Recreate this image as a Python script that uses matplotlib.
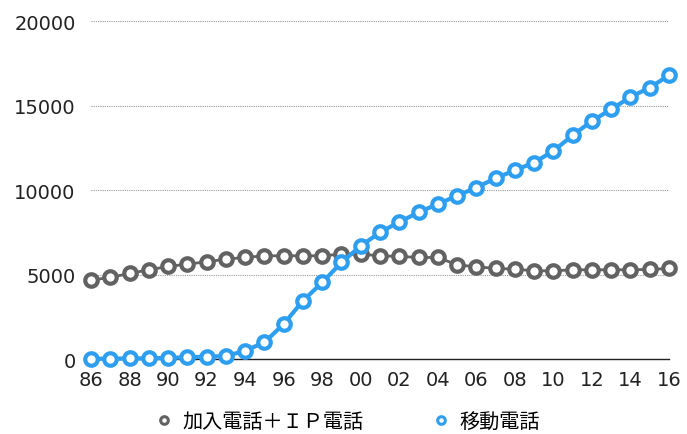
import matplotlib
matplotlib.use("Agg")
import matplotlib.pyplot as plt
from matplotlib.lines import Line2D

plt.rcParams['font.family'] = ['DejaVu Sans', 'Noto Sans CJK JP']

# 年度 (1986-2016), 契約数 (万)
years = list(range(1986, 2017))
fixed = [4669, 4826, 5063, 5278, 5476, 5614, 5752, 5910, 6010, 6107,
         6107, 6107, 6107, 6206, 6206, 6107, 6070, 6010, 6010, 5573,
         5455, 5360, 5319, 5219, 5219, 5278, 5278, 5278, 5278, 5300, 5360]
mobile = [10, 20, 30, 40, 70, 100, 140, 170, 490, 986,
          2068, 3447, 4530, 5712, 6696, 7488, 8115, 8670, 9179, 9651,
          10148, 10697, 11170, 11625, 12311, 13239, 14084, 14775, 15502, 16058, 16785]
xticks = list(range(1986, 2017, 2))
xlabels = [f"{y % 100:02d}" for y in xticks]
yticks = [0, 5000, 10000, 15000, 20000]
labels = ["加入電話＋ＩＰ電話", "移動電話"]

gray = '#626262'
blue = '#2e9ef0'

fig = plt.figure(figsize=(6.87, 4.35), dpi=100)
ax = fig.add_axes([0.1325, 0.1724, 0.8413, 0.777])

ax.plot(years, fixed, '-o', color=gray, lw=2, ms=9, mew=3,
        mfc='white', mec=gray, clip_on=False, zorder=3)
ax.plot(years, mobile, '-o', color=blue, lw=3, ms=9, mew=3,
        mfc='white', mec=blue, clip_on=False, zorder=4)

ax.set_xlim(1986, 2016)
ax.set_ylim(0, 20000)
ax.set_xticks(xticks)
ax.set_xticklabels(xlabels)
ax.set_yticks(yticks)
ax.tick_params(axis='both', length=0, labelsize=14, colors='#222222')
ax.tick_params(axis='y', pad=11)
ax.tick_params(axis='x', pad=8)

for s in ['top', 'right', 'left']:
    ax.spines[s].set_visible(False)
ax.spines['bottom'].set_color('#222222')
ax.spines['bottom'].set_linewidth(1)

for v in yticks[1:]:
    ax.axhline(v, color='#999999', lw=0.8, ls=(0, (1, 1)), zorder=1)

handles = [
    Line2D([], [], ls='none', marker='o', ms=5.5, mew=2.2, mfc='white', mec=gray),
    Line2D([], [], ls='none', marker='o', ms=5.5, mew=2.2, mfc='white', mec=blue),
]
fig.legend(handles, labels, loc='center', bbox_to_anchor=(0.505, 0.028), ncol=2,
           frameon=False, fontsize=14.5, columnspacing=3.3, handletextpad=0.45,
           handlelength=1.0)

fig.savefig('out.png', dpi=100)
